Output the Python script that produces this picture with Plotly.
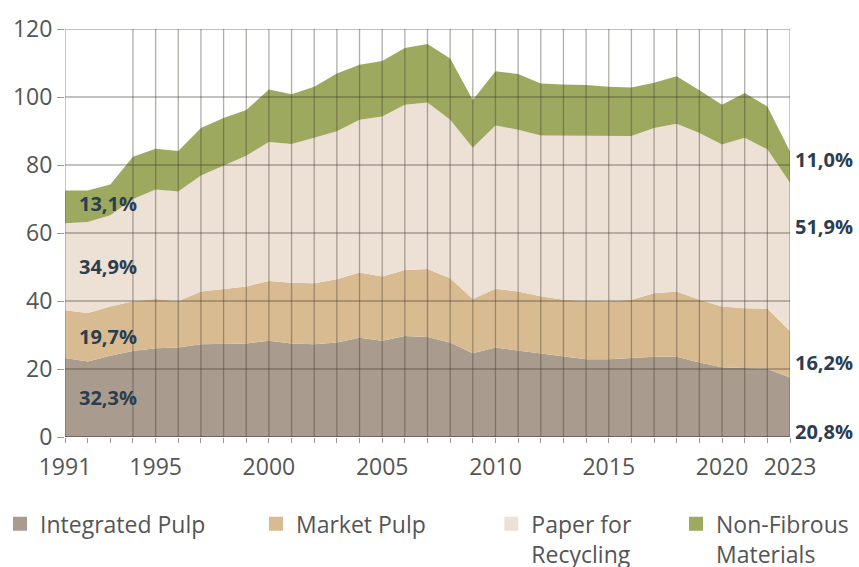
import plotly.graph_objects as go

years = list(range(1991, 2024))

integrated_pulp = [23.2, 22.2, 23.9, 25.3, 26.1, 26.3, 27.3, 27.5, 27.5, 28.3,
                   27.5, 27.3, 27.8, 29.2, 28.3, 29.7, 29.4, 27.8, 24.6, 26.3,
                   25.5, 24.6, 23.9, 22.9, 22.9, 23.2, 23.6, 23.6, 21.9, 20.5,
                   20.3, 20.0, 17.5]
market_pulp = [14.1, 14.3, 14.5, 14.6, 14.5, 13.6, 15.5, 16.1, 16.8, 17.6,
               17.9, 17.9, 18.6, 19.2, 18.9, 19.4, 20.0, 18.9, 16.0, 17.3,
               17.3, 16.8, 16.5, 17.2, 17.0, 17.2, 18.7, 19.2, 18.5, 17.9,
               17.6, 17.8, 13.7]
paper_recycling = [25.6, 26.7, 26.8, 30.1, 32.2, 32.3, 34.1, 36.2, 38.4, 40.9,
                   40.8, 42.8, 43.5, 44.9, 47.1, 48.6, 49.0, 46.6, 44.5, 48.0,
                   47.6, 47.3, 48.3, 48.4, 48.6, 48.1, 48.6, 49.3, 49.0, 47.6,
                   50.1, 46.8, 43.6]
non_fibrous = [9.6, 9.3, 9.1, 12.4, 12.0, 11.9, 14.0, 14.0, 13.5, 15.4,
               14.6, 15.0, 17.0, 16.2, 16.3, 16.7, 17.2, 18.0, 14.0, 16.0,
               16.4, 15.3, 15.0, 15.0, 14.5, 14.3, 13.3, 14.0, 12.6, 11.7,
               13.2, 12.6, 9.2]

series_names = ["Integrated Pulp", "Market Pulp", "Paper for<br>Recycling",
                "Non-Fibrous<br>Materials"]
share_1991 = ["32,3%", "19,7%", "34,9%", "13,1%"]
share_2023 = ["20,8%", "16,2%", "51,9%", "11,0%"]

x_ticks = [1991, 1995, 2000, 2005, 2010, 2015, 2020, 2023]
y_ticks = [0, 20, 40, 60, 80, 100, 120]
# years with a vertical grid line (none behind the 1991 labels)
grid_years = [1991] + list(range(1994, 2024))

colors = ["#a99c8e", "#d9bb92", "#ede1d6", "#9da95f"]
label_y_left = [11.7, 29.7, 50.1, 68.7]
label_y_right = [1.5, 21.8, 62.0, 81.6]
legend_x = [-0.002, 0.298, 0.572, 0.787]

fig = go.Figure()
for i, (name, values, color) in enumerate(zip(
        series_names,
        [integrated_pulp, market_pulp, paper_recycling, non_fibrous],
        colors)):
    fig.add_trace(go.Scatter(
        x=years, y=values, stackgroup="one", mode="lines",
        line=dict(width=0, color=color), fillcolor=color,
        showlegend=False, hoverinfo="skip",
    ))
    # square legend entry, one legend box per item
    fig.add_trace(go.Scatter(
        x=[None], y=[None], mode="markers", name=name,
        legend="legend" if i == 0 else "legend%d" % (i + 1),
        marker=dict(symbol="square", size=14, color=color),
    ))

grid_color = "rgba(70, 60, 50, 0.42)"
for yv in y_ticks:
    fig.add_shape(type="line", xref="x", yref="y", x0=years[0], x1=years[-1],
                  y0=yv, y1=yv, layer="above",
                  line=dict(color=grid_color if yv else "rgba(70,60,50,0.7)", width=1.5))
for xv in grid_years:
    fig.add_shape(type="line", xref="x", yref="y", x0=xv, x1=xv,
                  y0=y_ticks[0], y1=y_ticks[-1], layer="above",
                  line=dict(color=grid_color, width=1.3))

label_font = dict(family="Open Sans", size=20, color="#2c3d50")
for text, yv in zip(share_1991, label_y_left):
    fig.add_annotation(x=years[0], y=yv, text="<b>%s</b>" % text, showarrow=False,
                       xanchor="left", xshift=12, font=label_font)
for text, yv in zip(share_2023, label_y_right):
    fig.add_annotation(x=years[-1], y=yv, text="<b>%s</b>" % text, showarrow=False,
                       xanchor="left", xshift=3, font=label_font)

axis_font = dict(family="Open Sans", size=23, color="#555555")
legend_style = dict(orientation="h", xref="container", yref="container",
                    y=0.114, xanchor="left", yanchor="top",
                    font=dict(family="Open Sans", size=23, color="#555555"),
                    valign="top", itemwidth=30, bgcolor="rgba(0,0,0,0)")
fig.update_layout(
    width=859, height=567,
    margin=dict(l=65, r=69, t=23, b=130),
    paper_bgcolor="white", plot_bgcolor="white",
    xaxis=dict(range=[years[0], years[-1]], tickvals=x_ticks, showgrid=False,
               zeroline=False, ticks="outside", ticklen=5, tickcolor="#999999",
               tickfont=axis_font, ticklabelstandoff=4,
               minor=dict(dtick=1, tick0=1991, ticks="outside", ticklen=5,
                          tickcolor="#999999", showgrid=False)),
    yaxis=dict(range=[0, 120], tickvals=y_ticks, showgrid=False, zeroline=False,
               ticks="outside", ticklen=7, tickcolor="#999999", tickfont=axis_font),
    legend=dict(x=legend_x[0], **legend_style),
    legend2=dict(x=legend_x[1], **legend_style),
    legend3=dict(x=legend_x[2], **legend_style),
    legend4=dict(x=legend_x[3], **legend_style),
    showlegend=True,
)

# drop the default page margin so the figure sits at the window origin
fig.write_html("out.html", config={"displayModeBar": False},
               post_script="document.body.style.margin = '0';")
